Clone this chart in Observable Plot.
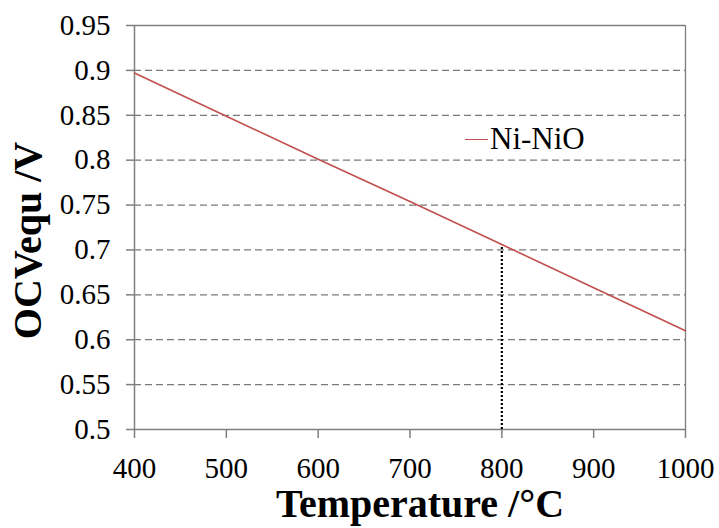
<!DOCTYPE html>
<html>
<head>
<meta charset="utf-8">
<script src="https://cdn.jsdelivr.net/npm/d3@7"></script>
<script src="https://cdn.jsdelivr.net/npm/@observablehq/plot@0.6"></script>
<style>
  html, body { margin: 0; padding: 0; background: #fff; }
  #chart { position: relative; width: 719px; height: 528px; }
  #legend { position: absolute; left: 465px; top: 121px; font-family: "Liberation Serif", "Times New Roman", serif; font-size: 31px; color: #000; display: flex; align-items: center; }
  #legend .sw { display: inline-block; width: 23px; height: 0; border-top: 1.6px solid #c0504d; margin-right: 2px; }
  #chart svg text { font-family: "Liberation Serif", "Times New Roman", serif; }
</style>
</head>
<body>
<div id="chart"><div id="legend"><span class="sw"></span><span>Ni-NiO</span></div></div>
<script>
const temperatures = [400, 500, 600, 700, 800, 900, 1000];
const ocvValues = [0.897, 0.849, 0.801, 0.754, 0.706, 0.658, 0.610];
const seriesName = "Ni-NiO";
const xTicks = [400, 500, 600, 700, 800, 900, 1000];
const yTicks = [0.5, 0.55, 0.6, 0.65, 0.7, 0.75, 0.8, 0.85, 0.9, 0.95];
const markerTemp = [800];
const markerOcv = [0.705];

const data = temperatures.map((t, i) => ({t, v: ocvValues[i]}));
const marker = markerTemp.map((t, i) => ({t, v: markerOcv[i]}));
const font = '"Liberation Serif", "Times New Roman", serif';
const axisGray = "#7f7f7f";

const plot = Plot.plot({
  width: 719,
  height: 528,
  marginLeft: 134,
  marginRight: 34,
  marginTop: 25,
  marginBottom: 99,
  style: {fontFamily: font, background: "#fff", color: "#000"},
  x: {domain: [400, 1000]},
  y: {domain: [0.5, 0.95]},
  marks: [
    Plot.gridY(yTicks.filter(d => d > 0.5 && d < 0.95), {stroke: "#7a7a7a", strokeOpacity: 1, strokeWidth: 1.3, strokeDasharray: "7,4"}),
    Plot.ruleY([0.95], {stroke: axisGray, strokeWidth: 1.3}),
    Plot.ruleX([1000], {stroke: axisGray, strokeWidth: 1.3}),
    Plot.ruleX([400], {stroke: axisGray, strokeWidth: 1.5}),
    Plot.ruleY([0.5], {stroke: axisGray, strokeWidth: 1.5}),
    Plot.axisY({ticks: yTicks, tickFormat: d => String(d), tickSize: 8, tickPadding: 16, fontSize: 29, fontFamily: font, stroke: axisGray, strokeWidth: 1.5, label: null}),
    Plot.axisX({ticks: xTicks, tickFormat: d => String(d), tickSize: 9, tickPadding: 19, fontSize: 29, fontFamily: font, stroke: axisGray, strokeWidth: 1.5, label: null}),
    Plot.ruleX(marker, {x: "t", y1: 0.5, y2: "v", stroke: "#000", strokeWidth: 2.2, strokeDasharray: "2,2"}),
    Plot.line(data, {x: "t", y: "v", stroke: "#c0504d", strokeWidth: 1.6}),
    Plot.text(["Temperature /°C"], {text: d => d, frameAnchor: "bottom", textAnchor: "middle", dx: 10, dy: 75, fontSize: 40, fontWeight: "bold", fontFamily: font, lineAnchor: "middle", fill: "#000"}),
    Plot.text(["OCVequ /V"], {text: d => d, frameAnchor: "left", textAnchor: "middle", rotate: -90, dx: -106, dy: 13, fontSize: 40, fontWeight: "bold", fontFamily: font, lineAnchor: "middle", fill: "#000"})
  ]
});
document.getElementById("chart").prepend(plot);
</script>
</body>
</html>
